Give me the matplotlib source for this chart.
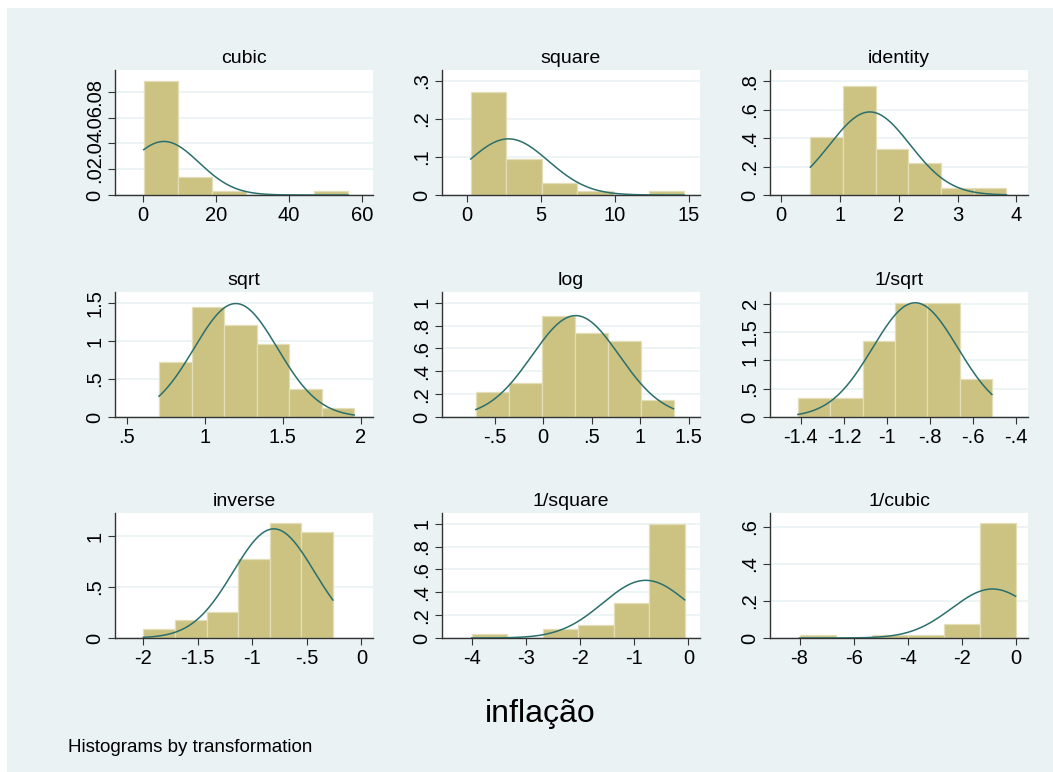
import numpy as np
import matplotlib
matplotlib.use("Agg")
import matplotlib.pyplot as plt
from matplotlib.patches import Rectangle

plt.rcParams['font.family'] = ['Liberation Sans', 'DejaVu Sans']

# ladder of powers: panel titles, data range (min, max) and density of each bin
titles = ['cubic', 'square', 'identity', 'sqrt', 'log', '1/sqrt',
          'inverse', '1/square', '1/cubic']
ranges = [(0.125, 56.18), (0.25, 14.67), (0.5, 3.83),
          (0.707, 1.957), (-0.693, 1.343), (-1.414, -0.511),
          (-2.0, -0.261), (-4.0, -0.068), (-8.0, -0.0178)]
densities = [
    [0.0887, 0.0136, 0.0028, 0.0, 0.0, 0.0028],
    [0.271, 0.0948, 0.0322, 0.0096, 0.0, 0.0096],
    [0.409, 0.770, 0.321, 0.228, 0.049, 0.049],
    [0.722, 1.453, 1.208, 0.963, 0.363, 0.118],
    [0.218, 0.294, 0.887, 0.735, 0.663, 0.148],
    [0.334, 0.334, 1.337, 2.006, 2.006, 0.663],
    [0.088, 0.173, 0.255, 0.778, 1.127, 1.039],
    [0.038, 0.0, 0.079, 0.117, 0.306, 0.997],
    [0.016, 0.0, 0.016, 0.016, 0.074, 0.622],
]
# fitted normal overlay (mean, sd) per panel
norm_mean = [5.66, 2.8, 1.51, 1.199, 0.335, -0.868, -0.803, -0.789, -0.871]
norm_sd = [9.61, 2.7, 0.683, 0.267, 0.45, 0.198, 0.373, 0.791, 1.505]

xticks = [[0, 20, 40, 60], [0, 5, 10, 15], [0, 1, 2, 3, 4],
          [0.5, 1, 1.5, 2], [-0.5, 0, 0.5, 1, 1.5], [-1.4, -1.2, -1, -0.8, -0.6, -0.4],
          [-2, -1.5, -1, -0.5, 0], [-4, -3, -2, -1, 0], [-8, -6, -4, -2, 0]]
yticks = [[0, 0.02, 0.04, 0.06, 0.08], [0, 0.1, 0.2, 0.3], [0, 0.2, 0.4, 0.6, 0.8],
          [0, 0.5, 1, 1.5], [0, 0.2, 0.4, 0.6, 0.8, 1], [0, 0.5, 1, 1.5, 2],
          [0, 0.5, 1], [0, 0.2, 0.4, 0.6, 0.8, 1], [0, 0.2, 0.4, 0.6]]

# axis limits (layout)
xlims = [(-7.76, 63.0), (-1.69, 15.74), (-0.187, 4.198),
         (0.425, 2.078), (-1.042, 1.616), (-1.544, -0.343),
         (-2.26, 0.107), (-4.55, 0.214), (-9.09, 0.442)]
ytops = [0.0969, 0.329, 0.879, 1.646, 1.093, 2.205, 1.225, 1.093, 0.676]

BG = '#EAF2F3'
BAR = '#CCC383'
BAR_EDGE = '#E3DEB8'
LINE = '#2B6F6C'
AXC = '#333333'


def stata_fmt(v):
    s = ('%g' % round(v, 6))
    if s.startswith('0.'):
        s = s[1:]
    elif s.startswith('-0.'):
        s = '-' + s[2:]
    return s


W, H = 1053, 772
fig = plt.figure(figsize=(W / 100, H / 100), dpi=100, facecolor='white')
fig.patches.append(Rectangle((7 / W, 0), 1, 1 - 8 / H, transform=fig.transFigure,
                             facecolor=BG, edgecolor='none', zorder=-10))

col_left = [115, 442, 770]
row_top = [70, 292, 513]
ax_w, ax_h = 258, 125

for i, title in enumerate(titles):
    r, c = divmod(i, 3)
    ax = fig.add_axes([col_left[c] / W, 1 - (row_top[r] + ax_h) / H, ax_w / W, ax_h / H])
    ax.set_facecolor('white')

    lo, hi = ranges[i]
    edges = np.linspace(lo, hi, len(densities[i]) + 1)
    ax.bar(edges[:-1], densities[i], width=np.diff(edges), align='edge',
           color=BAR, edgecolor=BAR_EDGE, linewidth=0.9, zorder=2)

    xs = np.linspace(lo, hi, 200)
    m, sd = norm_mean[i], norm_sd[i]
    ax.plot(xs, np.exp(-0.5 * ((xs - m) / sd) ** 2) / (sd * np.sqrt(2 * np.pi)),
            color=LINE, lw=1.1, zorder=3)

    ax.set_xlim(*xlims[i])
    ax.set_ylim(0, ytops[i])
    ax.set_xticks(xticks[i])
    ax.set_xticklabels([stata_fmt(v) for v in xticks[i]])
    ax.set_yticks(yticks[i])
    ax.set_yticklabels([stata_fmt(v) for v in yticks[i]], rotation=90, va='center')

    ax.yaxis.grid(True, color=BG, lw=1.2, zorder=0)
    ax.set_axisbelow(True)
    for s in ['top', 'right']:
        ax.spines[s].set_visible(False)
    for s in ['left', 'bottom']:
        ax.spines[s].set_color(AXC)
        ax.spines[s].set_linewidth(1.0)
    ax.tick_params(axis='both', length=5, width=0.8, color=AXC, labelsize=14.5,
                   labelcolor='black')
    ax.tick_params(axis='x', pad=3)
    ax.tick_params(axis='y', pad=2.5)
    ax.set_title(title, fontsize=14, pad=5)

fig.text(540 / W, 1 - 722 / H, 'inflação', fontsize=23, ha='center', va='baseline')
fig.text(68 / W, 1 - 752 / H, 'Histograms by transformation', fontsize=13.5,
         ha='left', va='baseline')

fig.savefig('out.png', dpi=100, facecolor=fig.get_facecolor())
